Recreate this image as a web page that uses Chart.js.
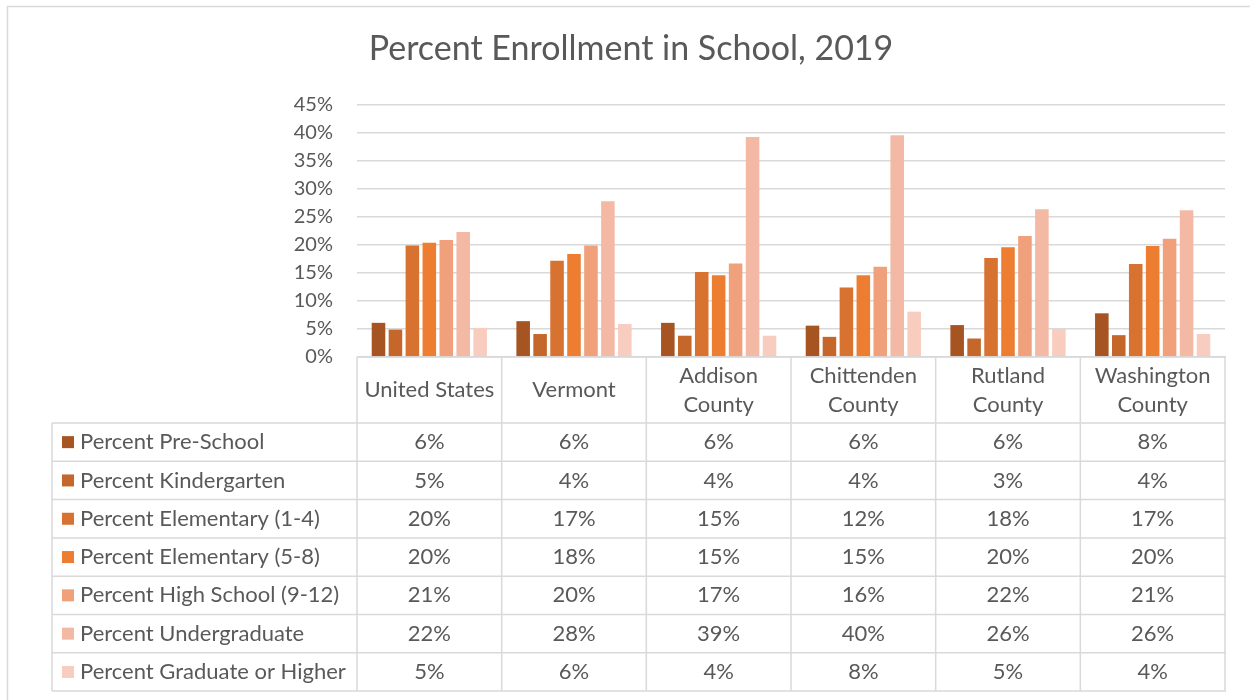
<!DOCTYPE html>
<html>
<head>
<meta charset="utf-8">
<script src="https://cdn.jsdelivr.net/npm/chart.js@4/dist/chart.umd.min.js"></script>
<style>
  html, body { margin: 0; padding: 0; background: #fff; }
  #wrap { width: 1250px; height: 700px; position: relative; }
</style>
</head>
<body>
<div id="wrap"><canvas id="enrollment-chart"></canvas></div>
<script>
const regions = [["United States"], ["Vermont"], ["Addison", "County"], ["Chittenden", "County"], ["Rutland", "County"], ["Washington", "County"]];
const seriesNames = [
  "Percent Pre-School",
  "Percent Kindergarten",
  "Percent Elementary (1-4)",
  "Percent Elementary (5-8)",
  "Percent High School (9-12)",
  "Percent Undergraduate",
  "Percent Graduate or Higher",
];
const preSchool = [6.1, 6.4, 6.1, 5.6, 5.7, 7.8];
const kindergarten = [4.9, 4.1, 3.8, 3.6, 3.3, 3.9];
const elementaryLower = [19.9, 17.2, 15.2, 12.4, 17.7, 16.6];
const elementaryUpper = [20.4, 18.4, 14.6, 14.6, 19.6, 19.8];
const highSchool = [20.9, 19.9, 16.7, 16.1, 21.6, 21.1];
const undergraduate = [22.3, 27.8, 39.3, 39.6, 26.4, 26.2];
const graduate = [5.2, 5.9, 3.8, 8.1, 5.0, 4.1];
const yTicks = [0, 5, 10, 15, 20, 25, 30, 35, 40, 45];

const seriesValues = [preSchool, kindergarten, elementaryLower, elementaryUpper, highSchool, undergraduate, graduate];
const seriesColors = ["#A65421", "#C5672A", "#D87230", "#ED7D31", "#F0A07A", "#F4B9A4", "#F8CDC0"];

const FONT = "Lato, 'Open Sans', sans-serif";
const TEXT = "#595959";
const LINE = "#d9d9d9";

// title, outer frame and the data table underneath the plot
const tablePlugin = {
  id: "dataTable",
  afterDraw(chart) {
    const ctx = chart.ctx;
    const x = chart.scales.x;
    const area = chart.chartArea;
    const colW = (area.right - area.left) / regions.length;
    const headTop = area.bottom;
    const headBottom = 423;
    const rowH = 38.3;
    const tableLeft = 52;
    const tableBottom = headBottom + rowH * seriesNames.length;

    ctx.save();
    ctx.strokeStyle = LINE;
    ctx.lineWidth = 1.5;

    // chart frame
    ctx.beginPath();
    ctx.moveTo(7.5, 701);
    ctx.lineTo(7.5, 6.5);
    ctx.lineTo(1251, 6.5);
    ctx.stroke();

    // table grid
    ctx.beginPath();
    ctx.moveTo(area.left, headTop);
    ctx.lineTo(area.right + 1, headTop);
    for (let r = 0; r <= seriesNames.length; r++) {
      const y = headBottom + r * rowH;
      ctx.moveTo(tableLeft, y);
      ctx.lineTo(area.right + 1, y);
    }
    ctx.moveTo(tableLeft, headBottom);
    ctx.lineTo(tableLeft, tableBottom);
    for (let c = 0; c <= regions.length; c++) {
      const cx = area.left + c * colW;
      ctx.moveTo(cx, headTop);
      ctx.lineTo(cx, tableBottom);
    }
    ctx.stroke();

    ctx.fillStyle = TEXT;
    ctx.textAlign = "center";
    ctx.textBaseline = "middle";

    // title
    ctx.font = "34px " + FONT;
    ctx.fillText("Percent Enrollment in School, 2019", 631, 49);

    // column headers
    ctx.font = "22px " + FONT;
    regions.forEach((lines, i) => {
      const cx = x.getPixelForValue(i);
      const mid = (headTop + headBottom) / 2;
      if (lines.length === 1) {
        ctx.fillText(lines[0], cx, mid);
      } else {
        ctx.fillText(lines[0], cx, mid - 14.5);
        ctx.fillText(lines[1], cx, mid + 14.5);
      }
    });

    // rows: legend key, series name, rounded values
    seriesNames.forEach((name, r) => {
      const cy = headBottom + r * rowH + rowH / 2;
      ctx.fillStyle = seriesColors[r];
      ctx.fillRect(62, cy - 6, 12, 12);
      ctx.fillStyle = TEXT;
      ctx.textAlign = "left";
      ctx.fillText(name, 80, cy);
      ctx.textAlign = "center";
      seriesValues[r].forEach((v, i) => {
        ctx.fillText(Math.round(v) + "%", x.getPixelForValue(i), cy);
      });
    });
    ctx.restore();
  },
};

new Chart(document.getElementById("enrollment-chart"), {
  type: "bar",
  data: {
    labels: regions,
    datasets: seriesNames.map((name, i) => ({
      label: name,
      data: seriesValues[i],
      backgroundColor: seriesColors[i],
      categoryPercentage: 0.82,
      barPercentage: 0.8,
    })),
  },
  options: {
    responsive: true,
    maintainAspectRatio: false,
    animation: false,
    layout: { padding: { top: 105, right: 25, bottom: 343, left: 0 } },
    plugins: {
      legend: { display: false },
      title: { display: false },
      tooltip: { enabled: false },
    },
    scales: {
      x: { display: false },
      y: {
        min: 0,
        max: 45,
        afterBuildTicks: (scale) => {
          scale.ticks = yTicks.map((v) => ({ value: v }));
        },
        afterFit: (scale) => {
          scale.width = 357;
        },
        ticks: {
          callback: (v) => v + "%",
          color: TEXT,
          font: { family: FONT, size: 20 },
          padding: 24,
        },
        grid: { color: LINE, lineWidth: 1.5, drawTicks: false },
        border: { display: false },
      },
    },
  },
  plugins: [tablePlugin],
});
</script>
</body>
</html>
